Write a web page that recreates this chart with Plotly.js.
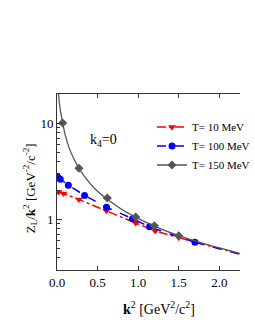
<!DOCTYPE html>
<html><head><meta charset="utf-8">
<script src="https://cdn.plot.ly/plotly-3.0.1.min.js"></script>
<style>html,body{margin:0;padding:0;background:#fff}#c{width:255px;height:330px}</style>
</head><body><div id="c"></div>
<script>
// T = 10 MeV (red, down triangles)
var redX = [0.02, 0.08, 0.27, 0.61, 0.97, 1.21, 1.50];
var redY = [1.93, 1.86, 1.61, 1.23, 0.92, 0.76, 0.65];
var redExtX = [1.50, 1.80, 2.00, 2.25];
var redExtY = [0.65, 0.55, 0.50, 0.44];
// T = 100 MeV (blue, circles)
var blueX = [0.01, 0.04, 0.14, 0.34, 0.61, 0.93, 1.14, 1.70];
var blueY = [2.75, 2.62, 2.27, 1.78, 1.34, 1.02, 0.84, 0.58];
var blueExtX = [1.70, 2.00, 2.25];
var blueExtY = [0.58, 0.50, 0.44];
// T = 150 MeV (gray, diamonds) and its curve
var grayMX = [0.07, 0.27, 0.62, 0.97, 1.20, 1.50];
var grayMY = [10, 3.4, 1.67, 1.06, 0.86, 0.68];
var grayCX = [0.018, 0.03, 0.045, 0.07, 0.1, 0.15, 0.2, 0.27, 0.35, 0.45, 0.62, 0.8, 0.97, 1.2, 1.5, 1.8, 2.0, 2.25];
var grayCY = [20.5, 16.0, 13.0, 10.0, 7.6, 5.5, 4.4, 3.4, 2.72, 2.15, 1.62, 1.27, 1.06, 0.855, 0.68, 0.565, 0.51, 0.445];
var names = ['T= 10 MeV', 'T= 100 MeV', 'T= 150 MeV'];
var xTicks = [0, 0.5, 1.0, 1.5, 2.0];
var xTickText = ['0.0', '0.5', '1.0', '1.5', '2.0'];
var yTicks = [1, 10];
var yTickText = ['1', '10'];
var yMinor = [0.3, 0.4, 0.5, 0.6, 0.7, 0.8, 0.9, 2, 3, 4, 5, 6, 7, 8, 9, 20];

function isolate(a) { var o = []; a.forEach(function (v, i) { if (i) o.push(null); o.push(v); }); return o; }

var RED = '#ff0000', BLUE = '#0000ff', GRAY = '#555555';
var data = [
  {x: redExtX, y: redExtY, mode: 'lines', line: {color: RED, width: 1.5, dash: 'dashdot'}, showlegend: false, hoverinfo: 'skip'},
  {x: redX, y: redY, mode: 'lines+markers', name: names[0], line: {color: RED, width: 1.5, dash: 'dashdot'},
   marker: {symbol: 'triangle-down', size: 7, color: RED}},
  {x: blueExtX, y: blueExtY, mode: 'lines', line: {color: BLUE, width: 1.5, dash: 'dash'}, showlegend: false, hoverinfo: 'skip'},
  {x: blueX, y: blueY, mode: 'lines+markers', name: names[1], line: {color: BLUE, width: 1.5, dash: 'dash'},
   marker: {symbol: 'circle', size: 7, color: BLUE}},
  {x: grayCX, y: grayCY, mode: 'lines', line: {color: GRAY, width: 1.3, shape: 'spline'}, showlegend: false, hoverinfo: 'skip'},
  {x: isolate(grayMX), y: isolate(grayMY), mode: 'lines+markers', connectgaps: false, name: names[2],
   line: {color: GRAY, width: 1.3}, marker: {symbol: 'diamond', size: 7, color: GRAY}}
];
var FONT = 'Liberation Serif';
var layout = {
  width: 255, height: 330,
  margin: {l: 57, r: 0, t: 94, b: 60},
  paper_bgcolor: '#fff', plot_bgcolor: '#fff',
  font: {family: FONT, size: 13, color: '#000'},
  showlegend: true,
  legend: {x: 0.52, y: 0.895, xanchor: 'left', yanchor: 'top', bgcolor: 'rgba(0,0,0,0)',
           font: {family: FONT, size: 11, color: '#000'}, itemwidth: 30, tracegroupgap: 0},
  xaxis: {range: [0, 2.255], tickmode: 'array', tickvals: xTicks, ticktext: xTickText,
          ticks: 'inside', ticklen: 4, tickcolor: '#333', showline: true, linecolor: '#333', linewidth: 1,
          mirror: 'ticks', showgrid: false, zeroline: false, tickfont: {family: FONT, size: 13}},
  yaxis: {type: 'log', range: [Math.log10(0.3), Math.log10(20)], tickmode: 'array', tickvals: yTicks, ticktext: yTickText,
          ticks: 'inside', ticklen: 5, tickcolor: '#333', showline: true, linecolor: '#333', linewidth: 1,
          mirror: false, showgrid: false, zeroline: false, tickfont: {family: FONT, size: 13},
          minor: {tickmode: 'array', tickvals: yMinor, ticks: 'inside', ticklen: 3, tickcolor: '#333', showgrid: false}},
  annotations: [
    {xref: 'paper', yref: 'paper', x: 0.556, y: -0.216, xanchor: 'center', yanchor: 'middle', showarrow: false,
     text: '<b>k</b><sup>2</sup> [GeV<sup>2</sup>/c<sup>2</sup>]', font: {family: FONT, size: 14}},
    {xref: 'paper', yref: 'paper', x: -0.146, y: 0.466, xanchor: 'center', yanchor: 'middle', showarrow: false, textangle: -90,
     text: 'Z<sub>L</sub>/<b>k</b><sup>2</sup> [GeV<sup>-2</sup>/c<sup>-2</sup>]', font: {family: FONT, size: 13}},
    {xref: 'paper', yref: 'paper', x: 0.255, y: 0.733, xanchor: 'center', yanchor: 'middle', showarrow: false,
     text: 'k<sub>4</sub>=0', font: {family: FONT, size: 14}}
  ]
};
Plotly.newPlot('c', data, layout, {displayModeBar: false, staticPlot: true});
</script></body></html>
